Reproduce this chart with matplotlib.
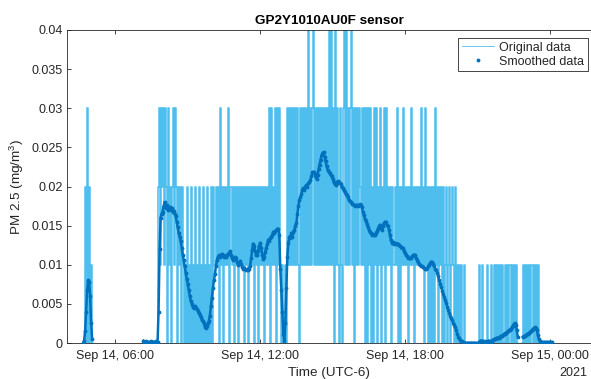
import numpy as np
import matplotlib
matplotlib.use("Agg")
import matplotlib.pyplot as plt
import matplotlib.dates as mdates

plt.rcParams['font.family'] = ['Liberation Sans', 'DejaVu Sans']
plt.rcParams['mathtext.fontset'] = 'custom'
plt.rcParams['mathtext.rm'] = 'Liberation Sans'
plt.rcParams['path.simplify'] = False

# ---------------- data ----------------
# Samples every 2.5 min starting Sep 14 2021, 04:40 (UTC-6)
start_time = '2021-09-14T04:40:00'
step_seconds = 150

# Original readings, quantised to 0.01 mg/m^3 steps: digit = level (x0.01), '.' = no data
original_levels = (
    "0020302010"                                            # i0-9
    + "." * 50                                              # i10-59 (no data)
    + "000000000000000"                                     # i60-74
    + "23132313203120231320212021"                          # i75-100
    + "0102010201020102010201020102021"                     # i101-131
    + "12120312" "02121302" "12021202" "12120212"           # i132-163
    + "02121202" "12021212" "02121303" "12130313"           # i164-195
    + "1010010"                                             # i196-202
    + "31313131" "31310313" "13131413" "13413131" "313131"  # i203-240
    + "31314141" "30413103" "10341413" "13413031" "313"     # i241-275
    + "21313030" "31302031" "30213021" "30312120" "21213020"  # i276-315
    + "21312120" "21312021" "21213120" "31202020" "203"     # i316-350
    + "12021202" "01201201" "21020101"                      # i351-374
    + "010010"                                              # i375-380
    + "0000000000000"                                       # i381-393
    + "100100001000100101"                                  # i394-411
    + "010101001010110101010"                               # i412-432
    + "...."                                                # i433-436
    + "01010101011010101"                                   # i437-453
    + "0000000000000"                                       # i454-466
)

nan = np.nan
# Smoothed data in ug/m^3 (1e-3 mg/m^3), same time grid
smoothed_ug = (
    [0.0, 0.3, 1.5, 4.0, 6.8, 8.0, 7.8, 6.0, 2.5, 0.5]                       # i0-9
    + [nan] * 50                                                               # i10-59
    + [0.3, 0.1, 0.1, 0.2, 0.1, 0.1, 0.1, 0.2, 0.1, 0.1, 0.1, 0.1, 0.2, 0.1, 0.1]  # i60-74
    + [4.0, 12.0, 16.0, 16.5, 16.8, 17.5, 18.0, 17.2, 17.6, 17.0,
       17.3, 17.4, 17.0, 17.3, 16.8, 16.9, 16.5, 16.2]                          # i75-92
    + [15.5, 14.8, 14.0, 13.6, 13.0, 12.2, 11.3, 10.6, 9.8, 9.0,
       8.2, 7.5, 6.8, 6.0, 5.4, 5.0, 4.6, 4.5, 4.7, 4.5,
       4.4, 4.1, 3.8, 3.6, 3.3, 3.0, 2.8, 2.5, 2.1, 1.9,
       2.2, 2.5, 2.8, 3.5, 4.7, 5.8, 7.0, 8.0, 8.8, 9.8,
       10.6, 11.0, 11.2]                                                       # i93-135
    + [11.0, 11.2, 11.4, 11.3, 11.0, 11.1, 11.0, 11.3, 11.4, 11.5,
       11.7, 11.2, 10.8, 10.6, 10.9, 11.0, 10.8, 10.3, 10.0, 10.2,
       10.5, 10.1, 9.7, 9.5, 9.6, 9.4, 9.3, 9.4, 9.3, 9.5,
       9.8, 10.8, 11.9, 12.7, 12.4, 11.7, 11.2, 11.2, 11.8, 12.4,
       12.8, 12.2, 11.3, 10.7, 11.0, 11.6, 12.2, 12.6, 13.2, 13.0,
       13.4, 13.6, 13.8, 14.2, 14.0, 14.3, 14.4, 14.6, 14.6, 13.8]             # i136-195
    + [9.5, 6.8, 4.0, 1.2, 0.2, 2.5, 7.0, 11.0, 12.8, 13.6,
       13.4, 14.0, 13.5, 14.2, 14.5, 15.0, 15.3, 16.5, 17.5, 18.3,
       18.6, 19.0, 19.6, 19.8, 19.6, 20.0, 20.2, 20.0, 20.4, 20.6,
       20.8, 21.3, 21.8, 21.9, 21.6, 21.2, 21.0, 21.5, 22.2, 22.8,
       23.4, 24.0, 24.3, 24.4, 23.8]                                           # i196-240
    + [23.2, 22.6, 22.1, 21.9, 21.7, 21.5, 21.3, 21.0, 20.6, 20.3,
       20.2, 20.5, 20.7, 20.6, 20.5, 20.3, 20.0, 19.8, 19.5, 19.3,
       19.1, 18.9, 18.6, 18.3, 18.1, 18.0, 17.8, 17.7, 17.6, 17.5,
       17.6, 17.6, 17.5, 17.6, 17.7, 17.6, 17.4, 16.8, 16.3, 15.9,
       15.6, 15.2, 14.8, 14.5, 14.2, 14.0, 13.8, 13.9, 13.8, 13.8]             # i241-290
    + [14.0, 14.3, 14.6, 14.9, 15.1, 14.7, 14.5, 14.9, 15.3, 15.5,
       15.4, 15.1, 14.9, 14.5, 13.8, 13.1, 12.8, 12.9, 12.7, 12.8,
       12.6, 12.7, 12.7, 12.5, 12.4, 12.3, 12.2, 12.1, 11.8, 11.5,
       11.3, 11.1, 10.9, 10.8, 10.8, 10.9, 11.1, 11.2, 11.3, 11.2,
       10.9, 10.6, 10.3, 10.1, 10.0, 9.9, 9.8, 9.7, 9.6, 9.5]                  # i291-340
    + [9.5, 9.6, 9.8, 10.0, 10.2, 10.4, 10.3, 10.1, 9.8, 9.5,
       9.3, 9.0, 8.5, 8.0, 7.6, 7.1, 6.7, 6.3, 5.9, 5.5,
       5.1, 4.6, 4.2, 3.8, 3.5, 3.2, 2.9, 2.6, 2.3, 2.0,
       1.6, 1.1, 0.8, 0.6, 0.4, 0.3, 0.2, 0.1]                                 # i341-378
    + [0.0, 0.0, 0.0, 0.0, 0.0, 0.0, 0.0, 0.0, 0.0, 0.0,
       0.0, 0.0, 0.0, 0.0, 0.0]                                                # i379-393
    + [0.2, 0.3, 0.3, 0.2, 0.1, 0.2, 0.1, 0.1, 0.2, 0.3,
       0.2, 0.1, 0.2, 0.4, 0.5, 0.5, 0.6, 0.6, 0.7, 0.7,
       0.8, 0.9, 0.9, 1.0, 1.1, 1.2, 1.3, 1.4, 1.5, 1.6,
       1.7, 1.8, 2.0, 2.2, 2.4, 2.5, 2.3, 1.6, 0.8]                            # i394-432
    + [nan, nan, nan, nan]                                                     # i433-436
    + [0.8, 0.9, 0.9, 1.0, 1.1, 1.2, 1.3, 1.4, 1.5, 1.6,
       1.8, 1.9, 2.0, 1.9, 1.6, 1.0, 0.5, 0.2]                                 # i437-454
    + [0.1, 0.1, 0.1, 0.1, 0.1, 0.1, 0.1, 0.1, 0.1, 0.1, 0.1, 0.1]             # i455-466
)

y_ticks = [0, 0.005, 0.01, 0.015, 0.02, 0.025, 0.03, 0.035, 0.04]
y_tick_labels = ['0', '0.005', '0.01', '0.015', '0.02', '0.025', '0.03', '0.035', '0.04']
x_start, x_end = '2021-09-14T04:00', '2021-09-15T01:42'

# ---------------- plotting ----------------
orig = np.array([np.nan if c == '.' else float(c) for c in original_levels]) * 0.01
smooth = np.array(smoothed_ug, dtype=float) / 1000.0
t0 = np.datetime64(start_time)
step = np.timedelta64(step_seconds, 's')
t_orig = t0 + np.arange(len(orig)) * step
t_smooth = t0 + np.arange(len(smooth)) * step

TXT = '#262626'
fig = plt.figure(figsize=(5.91, 3.79), dpi=100)
ax = fig.add_axes([67 / 591, 36 / 379, 524 / 591, 313 / 379])

ax.plot(t_orig, orig, color='#4DBEEE', lw=1.1, drawstyle='steps-mid',
        label='Original data', zorder=2)
ax.plot(t_smooth, smooth, color='#0072BD', lw=1.8, zorder=3)
ax.plot(t_smooth, smooth, '.', color='#0072BD', ms=3.5, label='Smoothed data', zorder=4)

ax.set_xlim(np.datetime64(x_start), np.datetime64(x_end))
ax.set_ylim(0, 0.04)
ax.set_yticks(y_ticks)
ax.set_yticklabels(y_tick_labels)
ax.xaxis.set_major_locator(mdates.HourLocator(byhour=[0, 6, 12, 18]))
ax.xaxis.set_major_formatter(mdates.DateFormatter('%b %d, %H:%M'))

ax.tick_params(axis='both', direction='in', length=3, width=0.6, colors=TXT,
               labelsize=9, top=True, right=False)
ax.tick_params(axis='x', pad=5)
ax.tick_params(axis='y', pad=3)
for side in ['left', 'bottom', 'top']:
    ax.spines[side].set_color(TXT)
    ax.spines[side].set_linewidth(0.6)
ax.spines['right'].set_visible(False)

ax.set_title('GP2Y1010AU0F sensor', fontweight='bold', fontsize=9.7, pad=4.0, color='black')
ax.set_xlabel('Time (UTC-6)', fontsize=9.7, color=TXT)
ax.xaxis.set_label_coords(0.5, (343 - 373) / 313)
ax.xaxis.label.set_va('center')
ax.set_ylabel(r'PM 2.5 (mg/m$^\mathrm{3}$)', fontsize=9.7, color=TXT)
ax.yaxis.set_label_coords((17 - 67) / 524, 0.5)
ax.yaxis.label.set_va('center')

fig.text(587 / 591, (379 - 373) / 379, '2021', ha='right', va='center', fontsize=9, color=TXT)

leg = ax.legend(loc='upper right', bbox_to_anchor=((588 - 67) / 524, (343 - 38) / 313),
                borderaxespad=0, fancybox=False, framealpha=1, edgecolor=TXT,
                fontsize=9, handlelength=2.6, handletextpad=0.4, labelspacing=0.15,
                borderpad=0.3, markerscale=1.0)
leg.get_frame().set_linewidth(0.6)
leg.get_lines()[0].set_linewidth(0.6)
for txt in leg.get_texts():
    txt.set_color(TXT)

fig.savefig('out.png', dpi=100)
